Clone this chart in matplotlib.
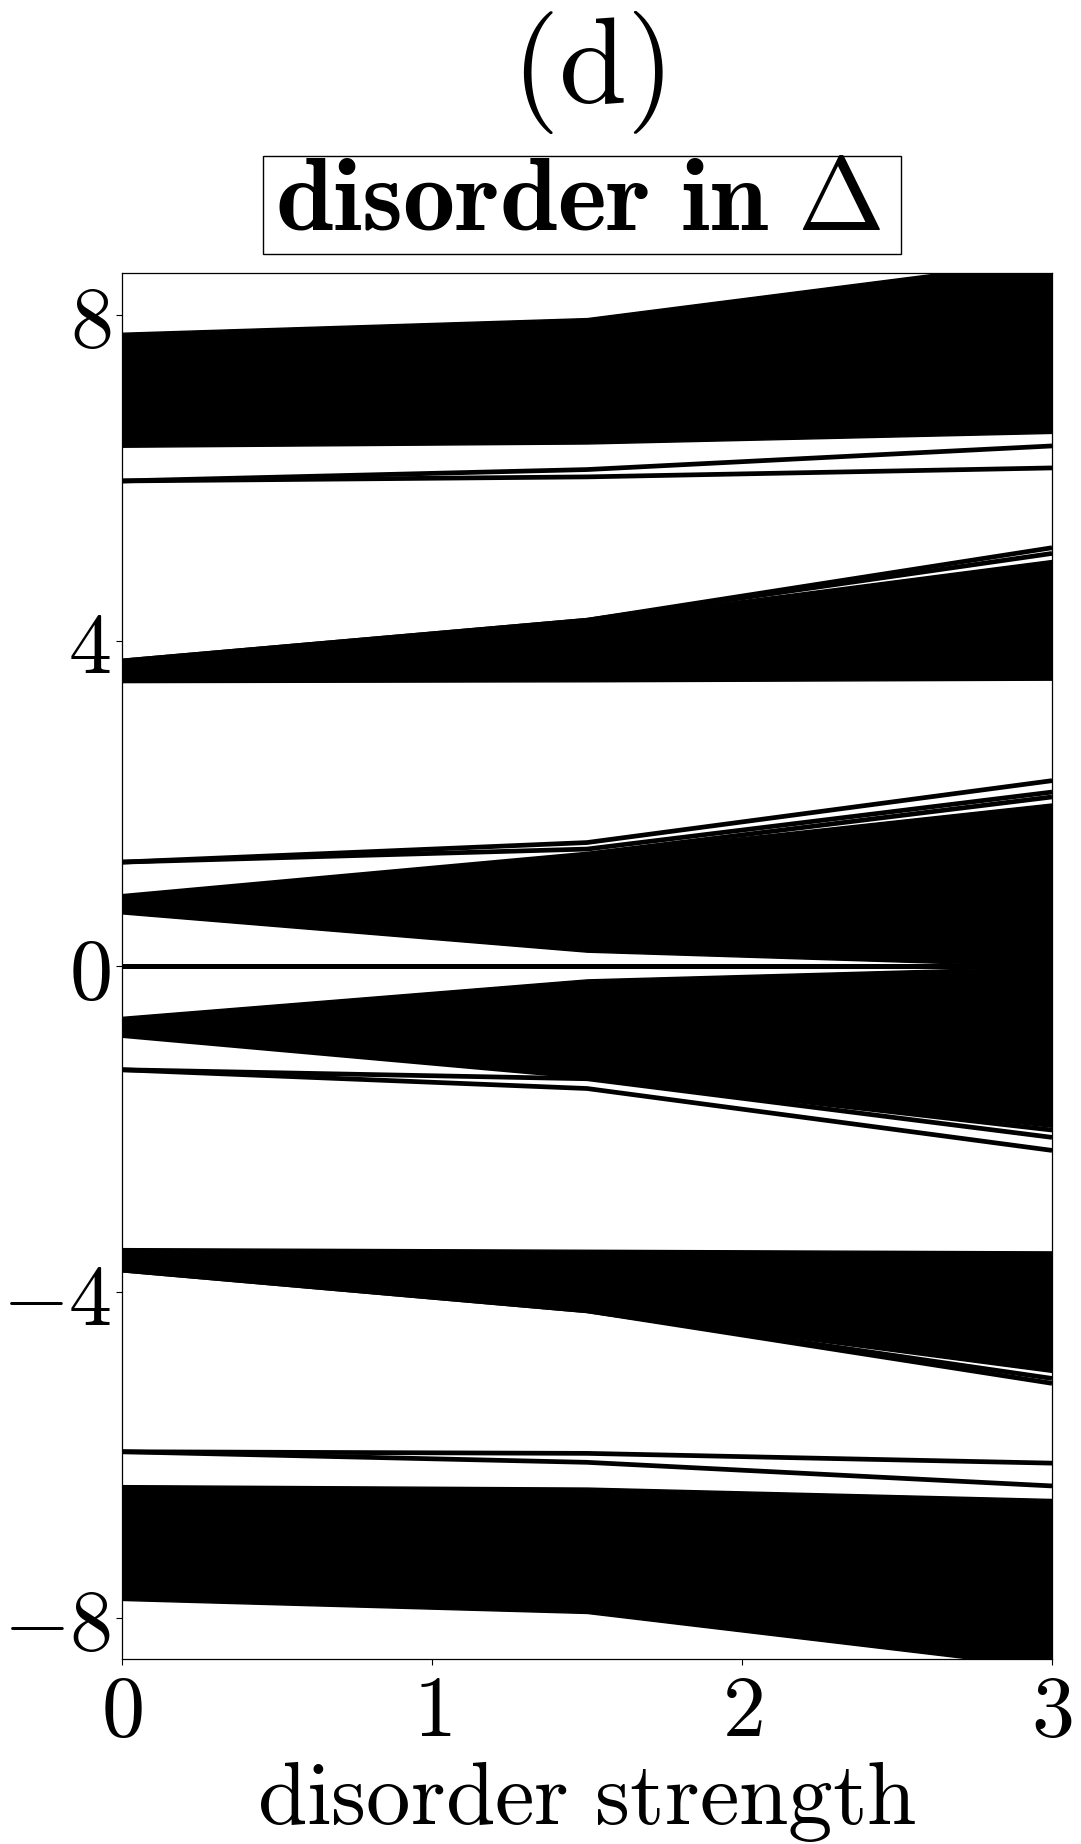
import matplotlib
matplotlib.use("Agg")
import matplotlib.pyplot as plt
from matplotlib.patches import Rectangle

plt.rcParams['mathtext.fontset'] = 'cm'
plt.rcParams['font.family'] = ['DejaVu Serif']

# disorder strengths at which the spectrum was computed
x_dis = [0.0, 1.5, 3.0]

# filled bands (dense sets of eigenvalues): lower / upper envelopes
band_top_lo = [6.38, 6.42, 6.55]
band_top_hi = [7.78, 7.96, 8.69]
band_p4_lo = [3.49, 3.50, 3.52]
band_p4_hi = [3.75, 4.25, 4.99]
band_pc_lo = [0.65, 0.18, 0.0]
band_pc_hi = [0.86, 1.38, 2.00]
band_mc_lo = [-0.85, -1.36, -1.97]
band_mc_hi = [-0.62, -0.16, 0.0]
band_m4_lo = [-3.73, -4.23, -4.98]
band_m4_hi = [-3.46, -3.48, -3.50]
band_bot_lo = [-7.78, -7.94, -8.62]
band_bot_hi = [-6.37, -6.40, -6.54]

# isolated eigenvalue branches
lvl_p6a = [5.96, 6.10, 6.39]
lvl_p6b = [5.96, 6.01, 6.12]
lvl_p5a = [3.75, 4.25, 5.14]
lvl_p5b = [3.75, 4.25, 5.07]
lvl_p2a = [1.28, 1.52, 2.28]
lvl_p2b = [1.28, 1.44, 2.14]
lvl_p2c = [0.86, 1.38, 2.08]
lvl_z1 = [0.0, 0.0, 0.0]
lvl_z2 = [0.0, 0.0, 0.0]
lvl_m2c = [-0.85, -1.36, -2.01]
lvl_m2b = [-1.27, -1.38, -2.10]
lvl_m2a = [-1.27, -1.50, -2.26]
lvl_m5b = [-3.73, -4.23, -5.06]
lvl_m5a = [-3.73, -4.23, -5.12]
lvl_m6b = [-5.96, -5.98, -6.10]
lvl_m6a = [-5.96, -6.09, -6.38]

x_ticks = [0, 1, 2, 3]
y_ticks = [-8, -4, 0, 4, 8]

bands = [(band_top_lo, band_top_hi), (band_p4_lo, band_p4_hi),
         (band_pc_lo, band_pc_hi), (band_mc_lo, band_mc_hi),
         (band_m4_lo, band_m4_hi), (band_bot_lo, band_bot_hi)]
levels = [lvl_p6a, lvl_p6b, lvl_p5a, lvl_p5b, lvl_p2a, lvl_p2b, lvl_p2c,
          lvl_m2c, lvl_m2b, lvl_m2a, lvl_m5b, lvl_m5a,
          lvl_m6b, lvl_m6a]
zero_levels = [lvl_z1, lvl_z2]

fig = plt.figure(figsize=(10.81, 18.44), dpi=100)
ax = fig.add_axes([0.1129, 0.1001, 0.8603, 0.7517])

for lo, hi in bands:
    ax.fill_between(x_dis, lo, hi, facecolor='black', edgecolor='black',
                    linewidth=1.0)
for lv in levels:
    ax.plot(x_dis, lv, color='black', linewidth=3.4, solid_capstyle='butt')
for lv in zero_levels:
    ax.plot(x_dis, lv, color='black', linewidth=3.6, solid_capstyle='butt')

ax.set_xlim(0, 3)
ax.set_ylim(-8.51, 8.51)
ax.set_xticks(x_ticks, labels=[rf'${v}$' for v in x_ticks])
ax.set_yticks(y_ticks, labels=[rf'${v}$' for v in y_ticks])
ax.tick_params(axis='both', labelsize=62, length=4, width=0.8, pad=4)
for s in ax.spines.values():
    s.set_linewidth(0.9)
ax.set_xlabel(r'$\mathrm{disorder\ strength}$', fontsize=64, labelpad=2)

cx = 0.543
fig.text(cx, 1 - 103 / 1844, r'$\mathrm{(d)}$', fontsize=88,
         ha='center', va='baseline')
fig.text(0.535, 1 - 230 / 1844, r'$\mathbf{disorder\ in\ }\Delta$',
         fontsize=75, ha='center', va='baseline')
fig.patches.append(Rectangle((263 / 1081, 1 - 254 / 1844), 638 / 1081,
                             98 / 1844, transform=fig.transFigure,
                             facecolor='none', edgecolor='black',
                             linewidth=1.0))

fig.savefig('out.png', dpi=100)
